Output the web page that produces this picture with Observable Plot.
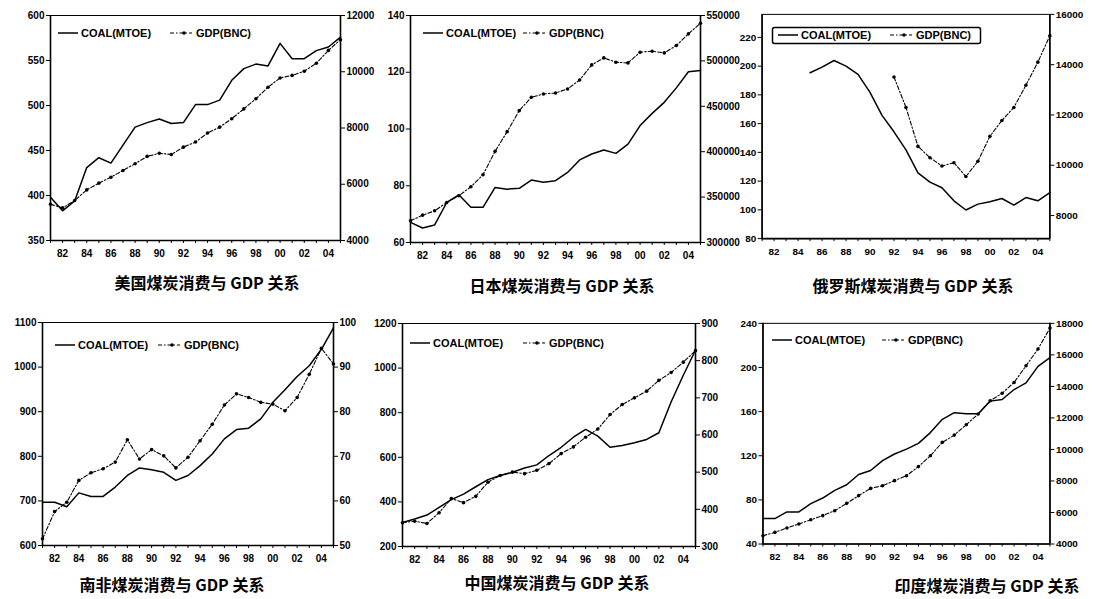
<!DOCTYPE html>
<html><head><meta charset="utf-8">
<script src="https://cdn.jsdelivr.net/npm/d3@7"></script>
<script src="https://cdn.jsdelivr.net/npm/@observablehq/plot@0.6"></script>
<style>
body{margin:0;background:#fff;}
#root{position:relative;width:1094px;height:599px;overflow:hidden;background:#fff;}
.pan{position:absolute;}
.ttl{position:absolute;font:bold 16px/16px "Noto Sans CJK SC",sans-serif;white-space:nowrap;transform:translateX(-50%);color:#000;}
.lg{position:absolute;}
</style></head><body><div id="root"></div>
<script>
// ---- data ----
const years = [1981,1982,1983,1984,1985,1986,1987,1988,1989,1990,1991,1992,1993,1994,1995,1996,1997,1998,1999,2000,2001,2002,2003,2004,2005];

const titles = ["美国煤炭消费与 GDP 关系","日本煤炭消费与 GDP 关系","俄罗斯煤炭消费与 GDP 关系","南非煤炭消费与 GDP 关系","中国煤炭消费与 GDP 关系","印度煤炭消费与 GDP 关系"];
const legendLabels = ["COAL(MTOE)","GDP(BNC)"];

const usCoal = [398,383,394,431,442,436,456,476,481,485,480,481,501,501,506,528,541,546,544,569,552,552,561,565,576];
const usGdp  = [5290,5160,5420,5800,6040,6250,6490,6730,6990,7100,7060,7320,7500,7820,8030,8330,8680,9040,9450,9780,9870,10020,10300,10760,11140];

const jpCoal = [67.1,65.1,66.2,74.1,76.8,72.4,72.4,79.4,78.8,79.1,82.0,81.2,81.8,84.7,89.1,91.2,92.6,91.4,94.7,101.2,105.5,109.4,114.5,120.2,120.6];
const jpGdp  = [323900,330100,334900,344100,351500,361400,374600,400400,422100,445200,459900,463600,464700,469100,479000,495600,503300,498500,497800,509600,510700,508800,516900,529800,541500];

const ruCoal = [null,null,null,null,195.4,199.3,203.9,200.0,194.3,181.7,165.7,154.3,141.7,125.7,119.3,115.4,106.3,99.9,104.0,105.6,107.9,103.3,108.6,106.3,112.0];
const ruGdp  = [null,null,null,null,null,null,null,null,null,null,null,13510,12300,10750,10300,9970,10100,9550,10160,11150,11780,12300,13180,14100,15150];

const zaCoal = [697,697,687,718,710,710,731,757,774,770,764,746,757,779,805,839,860,863,884,921,949,979,1003,1040,1088];
const zaGdp  = [51.5,57.6,59.7,64.6,66.3,67.2,68.7,73.7,69.4,71.5,70.1,67.4,69.8,73.5,77.2,81.5,84.0,83.2,82.1,81.7,80.2,83.2,88.4,94.2,90.7];

const cnCoal = [308,323,341,375,410,435,468,500,518,533,552,566,608,645,690,725,695,645,653,665,680,710,848,968,1080];
const cnGdp  = [364,368,362,391,429,418,435,473,491,500,496,505,523,550,568,594,616,655,682,700,718,747,768,796,827];

const inCoal = [63.1,63.1,69.1,69.1,76.6,81.7,88.6,93.7,103,106.6,115.6,121.6,126,131.2,141,153,159,158,158,169.5,171,180,186,201,209];
const inGdp  = [4530,4740,5020,5270,5540,5800,6110,6580,7070,7530,7700,8020,8330,8910,9600,10450,10910,11570,12250,13090,13560,14250,15310,16370,17700];

const usCoalTicks=[350,400,450,500,550,600], usGdpTicks=[4000,6000,8000,10000,12000];
const jpCoalTicks=[60,80,100,120,140], jpGdpTicks=[300000,350000,400000,450000,500000,550000];
const ruCoalTicks=[80,100,120,140,160,180,200,220], ruGdpTicks=[8000,10000,12000,14000,16000];
const zaCoalTicks=[600,700,800,900,1000,1100], zaGdpTicks=[50,60,70,80,90,100];
const cnCoalTicks=[200,400,600,800,1000,1200], cnGdpTicks=[300,400,500,600,700,800,900];
const inCoalTicks=[40,80,120,160,200,240], inGdpTicks=[4000,6000,8000,10000,12000,14000,16000,18000];

// ---- layout (page pixels) ----
const panels = [
 {L:50,R:340,T:15,B:240, coal:usCoal,gdp:usGdp,cDom:[350,600],gDom:[4000,12000],cT:usCoalTicks,gT:usGdpTicks, tx:207,ty:282, lg:{x:58,y:33,gx:112}},
 {L:410,R:700,T:15,B:242, coal:jpCoal,gdp:jpGdp,cDom:[60,140],gDom:[300000,550000],cT:jpCoalTicks,gT:jpGdpTicks, tx:562,ty:285, lg:{x:423,y:33,gx:100}},
 {L:762,R:1052,T:14,B:240, coal:ruCoal,gdp:ruGdp,cDom:[80,236],gDom:[7083,16000],cT:ruCoalTicks,gT:ruGdpTicks, tx:913,ty:285, lg:{x:778,y:35,gx:112,box:[772,27,208,16]}},
 {L:42,R:333,T:322,B:545, coal:zaCoal,gdp:zaGdp,cDom:[600,1100],gDom:[50,100],cT:zaCoalTicks,gT:zaGdpTicks, tx:172,ty:584, lg:{x:55,y:345,gx:103}},
 {L:402,R:695,T:323,B:546, coal:cnCoal,gdp:cnGdp,cDom:[200,1200],gDom:[300,900],cT:cnCoalTicks,gT:cnGdpTicks, tx:557,ty:582, lg:{x:410,y:343,gx:113}},
 {L:763,R:1053,T:323,B:546, coal:inCoal,gdp:inGdp,cDom:[40,240],gDom:[4000,18000],cT:inCoalTicks,gT:inGdpTicks, tx:987,ty:585, lg:{x:772,y:340,gx:110}}
];

const root = document.getElementById("root");
const FONT = '"Liberation Sans Narrow","Arial Narrow","Liberation Sans",Arial,sans-serif';

function drawPanel(p, idx){
  const ml=50, mr=45, mt=15, mb=25;
  const toC = g => p.cDom[0] + (g-p.gDom[0])/(p.gDom[1]-p.gDom[0])*(p.cDom[1]-p.cDom[0]);
  const toG = c => p.gDom[0] + (c-p.cDom[0])/(p.cDom[1]-p.cDom[0])*(p.gDom[1]-p.gDom[0]);
  const coalPts = years.map((y,i)=>({x:y,v:p.coal[i]})).filter(d=>d.v!=null);
  const gdpPts = years.map((y,i)=>({x:y,v:p.gdp[i]})).filter(d=>d.v!=null);
  const chart = Plot.plot({
    width: p.R-p.L+ml+mr, height: p.B-p.T+mt+mb,
    marginLeft:ml, marginRight:mr, marginTop:mt, marginBottom:mb,
    x:{domain:[1981,2005]}, y:{domain:p.cDom},
    style:{background:"transparent", fontFamily:FONT, fontSize:"10px", fontWeight:"bold", overflow:"visible", color:"#000"},
    marks:[
      Plot.frame({stroke:"#000", strokeWidth:1}),
      Plot.ruleX([1981,2005],{stroke:"#000",strokeWidth:1.6}),
      Plot.ruleY([p.cDom[0]],{stroke:"#000",strokeWidth:1.6}),
      Plot.axisX(years,{anchor:"bottom", tickSize:3, tickPadding:6, label:null, tickFormat:d=> d%2===0 ? String(d).slice(2) : ""}),
      Plot.axisY(p.cT,{anchor:"left", tickSize:4, tickPadding:2, label:null, tickFormat:d=>String(d)}),
      Plot.axisY(p.gT.map(toC),{anchor:"right", tickSize:4, tickPadding:2, label:null, tickFormat:v=>String(Math.round(toG(v)))}),
      Plot.line(coalPts,{x:"x",y:"v",stroke:"#000",strokeWidth:1.5}),
      Plot.line(gdpPts,{x:"x",y:d=>toC(d.v),stroke:"#000",strokeWidth:1.1,strokeDasharray:"4,2,1.5,2"}),
      Plot.dot(gdpPts,{x:"x",y:d=>toC(d.v),r:1.8,fill:"#000"})
    ]
  });
  const wrap = document.createElement("div");
  wrap.className="pan";
  wrap.style.left=(p.L-ml)+"px"; wrap.style.top=(p.T-mt)+"px";
  wrap.appendChild(chart);
  root.appendChild(wrap);

  const t = document.createElement("div");
  t.className="ttl"; t.textContent=titles[idx];
  t.style.left=p.tx+"px"; t.style.top=(p.ty-8)+"px";
  root.appendChild(t);

  // legend
  const lg = p.lg;
  const ox = lg.box ? lg.box[0] : lg.x-4, oy = lg.y-10;
  const svg = d3.create("svg").attr("width",240).attr("height",22)
    .style("position","absolute").style("left",ox+"px").style("top",oy+"px").style("overflow","visible");
  const lx = lg.x-ox, ly = 10;
  if(lg.box){
    svg.append("rect").attr("x",0.5).attr("y",lg.box[1]-oy+0.5).attr("width",lg.box[2]).attr("height",lg.box[3])
      .attr("fill","none").attr("stroke","#000").attr("stroke-width",1.5).attr("rx",2);
  }
  svg.append("line").attr("x1",lx).attr("x2",lx+20).attr("y1",ly).attr("y2",ly).attr("stroke","#000").attr("stroke-width",1.5);
  svg.append("text").attr("x",lx+23).attr("y",ly).attr("dy","0.35em").text(legendLabels[0])
    .style("font-family",FONT).style("font-size","11px").style("font-weight","bold");
  svg.append("line").attr("x1",lx+lg.gx).attr("x2",lx+lg.gx+22).attr("y1",ly).attr("y2",ly).attr("stroke","#000").attr("stroke-width",1.1).attr("stroke-dasharray","4,2,1.5,2");
  svg.append("circle").attr("cx",lx+lg.gx+14).attr("cy",ly).attr("r",1.8).attr("fill","#000");
  svg.append("text").attr("x",lx+lg.gx+26).attr("y",ly).attr("dy","0.35em").text(legendLabels[1])
    .style("font-family",FONT).style("font-size","11px").style("font-weight","bold");
  root.appendChild(svg.node());
}
panels.forEach(drawPanel);
</script>
</body></html>
